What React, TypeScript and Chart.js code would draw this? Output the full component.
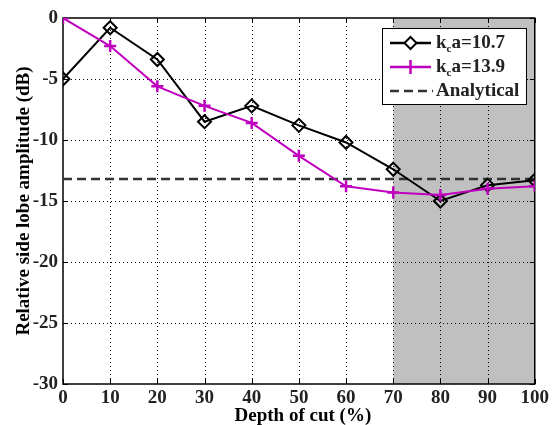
import React, { useEffect, useRef } from "react";
import { Chart, registerables } from "chart.js";

Chart.register(...registerables);

const depthOfCut = [0, 10, 20, 30, 40, 50, 60, 70, 80, 90, 100];
const kca107 = [-5.0, -0.8, -3.4, -8.5, -7.2, -8.8, -10.2, -12.4, -15.0, -13.7, -13.3];
const kca139 = [0.0, -2.3, -5.6, -7.2, -8.6, -11.3, -13.8, -14.3, -14.5, -14.0, -13.8];
const analyticalValue = -13.2;
const shadedFrom = 70;
const shadedTo = 100;
const xTicks = [0, 10, 20, 30, 40, 50, 60, 70, 80, 90, 100];
const yTicks = [0, -5, -10, -15, -20, -25, -30];

const FONT = "'Liberation Serif', 'Times New Roman', serif";
const BLACK_C = "#000000";
const MAGENTA = "#bf00bf";
const DASH_C = "#333333";
const GRAY = "#c0c0c0";

const decor = {
  id: "decor",
  beforeDraw(chart: any) {
    const { ctx, chartArea, scales } = chart;
    const x = scales.x;
    ctx.save();
    ctx.fillStyle = GRAY;
    const x0 = x.getPixelForValue(shadedFrom);
    const x1 = x.getPixelForValue(shadedTo);
    ctx.fillRect(x0, chartArea.top, x1 - x0, chartArea.bottom - chartArea.top);
    ctx.restore();
  },
  beforeDatasetsDraw(chart: any) {
    const { ctx, chartArea, scales } = chart;
    const { left, right, top, bottom } = chartArea;
    ctx.save();
    ctx.strokeStyle = "#000";
    ctx.lineWidth = 1;
    ctx.setLineDash([1, 3]);
    for (const v of xTicks) {
      if (v === 0 || v === 100) continue;
      const px = Math.round(scales.x.getPixelForValue(v)) + 0.5;
      ctx.beginPath();
      ctx.moveTo(px, top);
      ctx.lineTo(px, bottom);
      ctx.stroke();
    }
    for (const v of yTicks) {
      if (v === 0 || v === -30) continue;
      const py = Math.round(scales.y.getPixelForValue(v)) + 0.5;
      ctx.beginPath();
      ctx.moveTo(left, py);
      ctx.lineTo(right, py);
      ctx.stroke();
    }
    ctx.setLineDash([]);
    // inner tick marks
    ctx.lineWidth = 1;
    for (const v of xTicks) {
      const px = Math.round(scales.x.getPixelForValue(v)) + 0.5;
      ctx.beginPath();
      ctx.moveTo(px, bottom);
      ctx.lineTo(px, bottom - 5);
      ctx.moveTo(px, top);
      ctx.lineTo(px, top + 5);
      ctx.stroke();
    }
    for (const v of yTicks) {
      const py = Math.round(scales.y.getPixelForValue(v)) + 0.5;
      ctx.beginPath();
      ctx.moveTo(left, py);
      ctx.lineTo(left + 5, py);
      ctx.moveTo(right, py);
      ctx.lineTo(right - 5, py);
      ctx.stroke();
    }
    // box
    ctx.lineWidth = 1.5;
    ctx.strokeRect(left, top, right - left, bottom - top);
    ctx.restore();
  },
  afterDraw(chart: any) {
    const { ctx, chartArea } = chart;
    ctx.save();
    // axis titles
    ctx.fillStyle = "#000";
    ctx.font = `bold 19px ${FONT}`;
    ctx.textAlign = "center";
    ctx.textBaseline = "alphabetic";
    ctx.fillText("Depth of cut (%)", (chartArea.left + chartArea.right) / 2 + 4, 421);
    ctx.save();
    ctx.translate(29, (chartArea.top + chartArea.bottom) / 2);
    ctx.rotate(-Math.PI / 2);
    ctx.fillText("Relative side lobe amplitude (dB)", 0, 0);
    ctx.restore();

    // legend
    const bx = 382, by = 28, bw = 144, bh = 76;
    ctx.fillStyle = "#fff";
    ctx.fillRect(bx, by, bw, bh);
    ctx.strokeStyle = "#000";
    ctx.lineWidth = 1;
    ctx.strokeRect(bx + 0.5, by + 0.5, bw, bh);
    const rows = [43, 67, 91];
    const lx0 = 390, lx1 = 431, lxm = 410.5, tx = 436;
    // row 1
    ctx.strokeStyle = BLACK_C;
    ctx.lineWidth = 2.5;
    ctx.beginPath();
    ctx.moveTo(lx0, rows[0]);
    ctx.lineTo(lx1, rows[0]);
    ctx.stroke();
    ctx.fillStyle = "#fff";
    ctx.beginPath();
    ctx.moveTo(lxm - 6, rows[0]);
    ctx.lineTo(lxm, rows[0] - 6);
    ctx.lineTo(lxm + 6, rows[0]);
    ctx.lineTo(lxm, rows[0] + 6);
    ctx.closePath();
    ctx.fill();
    ctx.lineWidth = 2;
    ctx.stroke();
    // row 2
    ctx.strokeStyle = MAGENTA;
    ctx.lineWidth = 2.5;
    ctx.beginPath();
    ctx.moveTo(lx0, rows[1]);
    ctx.lineTo(lx1, rows[1]);
    ctx.moveTo(lxm, rows[1] - 7);
    ctx.lineTo(lxm, rows[1] + 7);
    ctx.stroke();
    // row 3
    ctx.strokeStyle = DASH_C;
    ctx.lineWidth = 2.5;
    ctx.setLineDash([9, 5]);
    ctx.beginPath();
    ctx.moveTo(lx0, rows[2]);
    ctx.lineTo(lx1 + 2, rows[2]);
    ctx.stroke();
    ctx.setLineDash([]);
    // texts
    ctx.fillStyle = "#222";
    ctx.textAlign = "left";
    ctx.textBaseline = "middle";
    const drawK = (y: number, rest: string) => {
      ctx.font = `bold 19px ${FONT}`;
      ctx.fillText("k", tx, y);
      const kw = ctx.measureText("k").width;
      ctx.font = `bold 11px ${FONT}`;
      ctx.fillText("c", tx + kw, y + 6);
      const cw = ctx.measureText("c").width;
      ctx.font = `bold 19px ${FONT}`;
      ctx.fillText(rest, tx + kw + cw, y);
    };
    drawK(rows[0], "a=10.7");
    drawK(rows[1], "a=13.9");
    ctx.font = `bold 19px ${FONT}`;
    ctx.fillText("Analytical", tx, rows[2]);
    ctx.restore();
  },
};

export default function App() {
  const ref = useRef<HTMLCanvasElement | null>(null);
  useEffect(() => {
    document.body.style.margin = "0";
    const canvas = ref.current;
    if (!canvas) return;
    const chart = new Chart(canvas, {
      type: "line",
      data: {
        datasets: [
          {
            label: "kca=10.7",
            data: depthOfCut.map((d, i) => ({ x: d, y: kca107[i] })),
            borderColor: BLACK_C,
            backgroundColor: "rgba(0,0,0,0)",
            borderWidth: 2,
            pointStyle: "rectRot",
            pointRadius: 6.5,
            pointBorderWidth: 2,
            pointBorderColor: BLACK_C,
            pointBackgroundColor: "rgba(0,0,0,0)",
            order: 1,
          },
          {
            label: "kca=13.9",
            data: depthOfCut.map((d, i) => ({ x: d, y: kca139[i] })),
            borderColor: MAGENTA,
            backgroundColor: MAGENTA,
            borderWidth: 2,
            pointStyle: "cross",
            pointRadius: 6,
            pointBorderWidth: 2.5,
            pointBorderColor: MAGENTA,
            order: 0,
          },
          {
            label: "Analytical",
            data: [
              { x: depthOfCut[0], y: analyticalValue },
              { x: depthOfCut[depthOfCut.length - 1], y: analyticalValue },
            ],
            borderColor: DASH_C,
            borderWidth: 2.5,
            borderDash: [9, 5],
            pointRadius: 0,
            order: 2,
          },
        ],
      },
      options: {
        animation: false,
        responsive: false,
        devicePixelRatio: 1,
        layout: { padding: { top: 18, right: 17, left: 0, bottom: 0 } },
        plugins: { legend: { display: false }, tooltip: { enabled: false } },
        scales: {
          x: {
            type: "linear",
            min: 0,
            max: 100,
            grid: { display: false, drawTicks: false },
            border: { display: false },
            ticks: {
              stepSize: 10,
              color: "#222",
              font: { family: FONT, size: 19, weight: "bold" },
              padding: 3,
              maxRotation: 0,
            },
            afterFit: (s: any) => {
              s.height = 41;
            },
          },
          y: {
            type: "linear",
            min: -30,
            max: 0,
            grid: { display: false, drawTicks: false },
            border: { display: false },
            ticks: {
              stepSize: 5,
              color: "#222",
              font: { family: FONT, size: 19, weight: "bold" },
              padding: 5,
            },
            afterFit: (s: any) => {
              s.width = 63;
            },
          },
        },
      },
      plugins: [decor],
    } as any);
    return () => chart.destroy();
  }, []);
  return (
    <div style={{ position: "absolute", left: 0, top: 0, width: 552, height: 425 }}>
      <canvas ref={ref} width={552} height={425} style={{ width: 552, height: 425, display: "block" }} />
    </div>
  );
}
